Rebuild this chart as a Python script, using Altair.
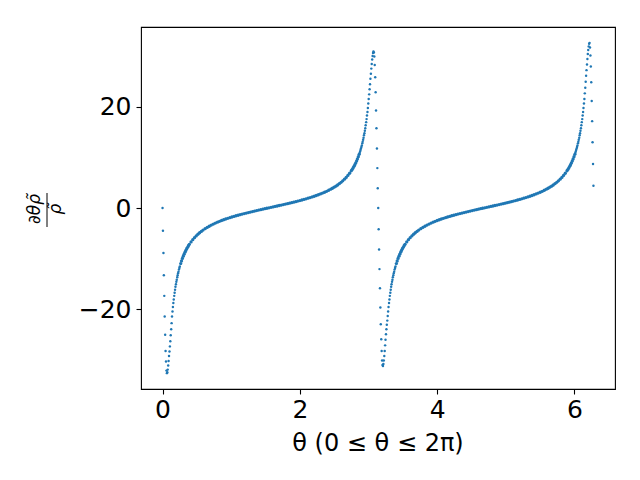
import altair as alt
import pandas as pd

# ---- values ----
# steep samples just after theta = 0
theta_a = [0.000, 0.006, 0.013, 0.019, 0.025, 0.031, 0.038, 0.044, 0.050, 0.057,
           0.063, 0.069, 0.075, 0.082, 0.088, 0.094, 0.101, 0.107, 0.113, 0.119,
           0.126, 0.132, 0.138, 0.145, 0.151, 0.157, 0.163, 0.170, 0.176, 0.182,
           0.188, 0.195, 0.201, 0.207, 0.214, 0.220, 0.226, 0.232, 0.239, 0.245,
           0.251]
rho_a = [0.0, -4.5, -8.9, -13.3, -17.4, -21.5, -25.1, -28.3, -30.4, -32.2,
         -32.7, -32.5, -32.0, -31.2, -30.3, -29.3, -28.4, -27.4, -26.4, -25.2,
         -24.0, -22.8, -21.5, -20.5, -19.6, -18.8, -18.1, -17.4, -16.8, -16.2,
         -15.6, -15.1, -14.6, -14.2, -13.7, -13.3, -12.9, -12.6, -12.2, -11.9,
         -11.6]

# smooth branch, first period
theta_b = [0.264, 0.276, 0.289, 0.302, 0.314, 0.327, 0.339, 0.352, 0.364, 0.377, 0.390,
           0.415, 0.440, 0.465, 0.490, 0.515, 0.540, 0.565, 0.590,
           0.620, 0.650, 0.680, 0.710, 0.740, 0.770, 0.800, 0.830, 0.860, 0.890, 0.920,
           0.950, 0.980, 1.010, 1.040, 1.070, 1.100, 1.130, 1.160, 1.190, 1.220, 1.250,
           1.280, 1.310, 1.340, 1.370, 1.400, 1.430, 1.460, 1.490, 1.520, 1.550, 1.580,
           1.610, 1.640, 1.670, 1.700, 1.730, 1.760, 1.790, 1.820, 1.850, 1.880, 1.910,
           1.940, 1.970, 2.000, 2.030, 2.060, 2.090, 2.120, 2.150, 2.180, 2.210, 2.240,
           2.270, 2.300, 2.330, 2.360, 2.390, 2.420, 2.450,
           2.475, 2.500, 2.525, 2.550, 2.575, 2.600, 2.625, 2.650, 2.675, 2.700, 2.725, 2.750,
           2.763, 2.776, 2.789, 2.801, 2.814, 2.827, 2.839, 2.852, 2.864]
rho_b = [-11.0, -10.49, -9.99, -9.53, -9.14, -8.75, -8.41, -8.07, -7.78, -7.48, -7.2,
         -6.71, -6.28, -5.88, -5.52, -5.2, -4.9, -4.63, -4.38,
         -4.10, -3.85, -3.61, -3.39, -3.19, -2.99, -2.81, -2.64, -2.48, -2.33, -2.18,
         -2.05, -1.91, -1.78, -1.66, -1.54, -1.43, -1.32, -1.21, -1.10, -1.00, -0.90,
         -0.80, -0.70, -0.61, -0.51, -0.42, -0.33, -0.23, -0.14, -0.05, 0.04, 0.13,
         0.22, 0.31, 0.40, 0.49, 0.58, 0.67, 0.77, 0.86, 0.96, 1.06, 1.16,
         1.26, 1.37, 1.47, 1.59, 1.70, 1.82, 1.94, 2.07, 2.20, 2.33, 2.47,
         2.62, 2.78, 2.95, 3.12, 3.31, 3.51, 3.72,
         3.91, 4.12, 4.33, 4.56, 4.82, 5.09, 5.38, 5.70, 6.06, 6.45, 6.88, 7.37,
         7.64, 7.94, 8.25, 8.56, 8.93, 9.32, 9.71, 10.17, 10.63]

# steep samples around theta = pi
theta_c = [2.871, 2.878, 2.884, 2.890, 2.897, 2.903, 2.909, 2.915, 2.922, 2.928,
           2.934, 2.941, 2.947, 2.953, 2.959, 2.966, 2.972, 2.978, 2.985, 2.991,
           2.997, 3.003, 3.010, 3.016, 3.022, 3.028, 3.035, 3.041, 3.047, 3.054,
           3.060, 3.066, 3.072, 3.079, 3.085, 3.091, 3.098, 3.104, 3.110, 3.116,
           3.123, 3.129, 3.135, 3.142, 3.148, 3.154, 3.160, 3.167, 3.173, 3.179,
           3.186, 3.192, 3.198, 3.204, 3.211, 3.217, 3.223, 3.230, 3.236, 3.242,
           3.248, 3.255, 3.261, 3.267, 3.274, 3.280, 3.286, 3.292, 3.299, 3.305,
           3.311, 3.318, 3.324, 3.330, 3.336, 3.343, 3.349, 3.355, 3.362, 3.368,
           3.374, 3.380, 3.387, 3.393]
rho_c = [10.9, 11.2, 11.5, 11.8, 12.1, 12.4, 12.8, 13.1, 13.5, 13.9,
         14.4, 14.8, 15.3, 15.8, 16.4, 17.0, 17.6, 18.3, 19.0, 19.8,
         20.7, 21.6, 22.5, 23.5, 24.5, 25.6, 26.6, 27.6, 28.5, 29.4,
         30.1, 30.7, 31.0, 30.8, 30.0, 28.3, 25.9, 22.9, 19.3, 15.8,
         11.8, 7.9, 3.9, 0.0, -4.2, -8.2, -12.1, -15.9, -19.7, -23.0,
         -26.0, -28.3, -30.2, -31.1, -31.3, -30.9, -30.2, -29.3, -28.3, -27.2,
         -26.1, -25.0, -24.0, -23.1, -22.3, -21.4, -20.5, -19.6, -18.8, -18.1,
         -17.4, -16.8, -16.2, -15.6, -15.1, -14.6, -14.2, -13.7, -13.3, -12.9,
         -12.6, -12.2, -11.9, -11.6]

# smooth branch, second period
theta_d = [3.406, 3.418, 3.431, 3.444, 3.456, 3.469, 3.481, 3.494, 3.506, 3.519, 3.532,
           3.557, 3.582, 3.607, 3.632, 3.657, 3.682, 3.707, 3.732,
           3.762, 3.792, 3.822, 3.852, 3.882, 3.912, 3.942, 3.972, 4.002, 4.032, 4.062,
           4.092, 4.122, 4.152, 4.182, 4.212, 4.242, 4.272, 4.302, 4.332, 4.362, 4.392,
           4.422, 4.452, 4.482, 4.512, 4.542, 4.572, 4.602, 4.632, 4.662, 4.692, 4.722,
           4.752, 4.782, 4.812, 4.842, 4.872, 4.902, 4.932, 4.962, 4.992, 5.022, 5.052,
           5.082, 5.112, 5.142, 5.172, 5.202, 5.232, 5.262, 5.292, 5.322, 5.352, 5.382,
           5.412, 5.442, 5.472, 5.502, 5.532, 5.562, 5.592,
           5.617, 5.642, 5.667, 5.692, 5.717, 5.742, 5.767, 5.792, 5.817, 5.842, 5.867, 5.892,
           5.905, 5.918, 5.931, 5.943, 5.956, 5.969, 5.981, 5.994, 6.006]
rho_d = [-11.0, -10.49, -9.99, -9.53, -9.14, -8.75, -8.41, -8.07, -7.78, -7.48, -7.2,
         -6.71, -6.28, -5.88, -5.52, -5.2, -4.9, -4.63, -4.38,
         -4.10, -3.85, -3.61, -3.39, -3.19, -2.99, -2.81, -2.64, -2.48, -2.33, -2.18,
         -2.05, -1.91, -1.78, -1.66, -1.54, -1.43, -1.32, -1.21, -1.10, -1.00, -0.90,
         -0.80, -0.70, -0.61, -0.51, -0.42, -0.33, -0.23, -0.14, -0.05, 0.04, 0.13,
         0.22, 0.31, 0.40, 0.49, 0.58, 0.67, 0.77, 0.86, 0.96, 1.06, 1.16,
         1.26, 1.37, 1.47, 1.59, 1.70, 1.82, 1.94, 2.07, 2.20, 2.33, 2.47,
         2.62, 2.78, 2.95, 3.12, 3.31, 3.51, 3.72,
         3.91, 4.12, 4.33, 4.56, 4.82, 5.09, 5.38, 5.70, 6.06, 6.45, 6.88, 7.37,
         7.64, 7.94, 8.25, 8.56, 8.93, 9.32, 9.71, 10.17, 10.63]

# steep samples just before theta = 2*pi
theta_e = [6.013, 6.019, 6.025, 6.032, 6.038, 6.044, 6.051, 6.057, 6.063, 6.070,
           6.076, 6.082, 6.088, 6.095, 6.101, 6.107, 6.114, 6.120, 6.126, 6.132,
           6.139, 6.145, 6.151, 6.158, 6.164, 6.170, 6.176, 6.183, 6.189, 6.195,
           6.201, 6.208, 6.214, 6.220, 6.227, 6.233, 6.239, 6.245, 6.252, 6.258,
           6.264, 6.271, 6.277]
rho_e = [10.9, 11.2, 11.5, 11.8, 12.1, 12.4, 12.8, 13.1, 13.5, 13.9,
         14.4, 14.8, 15.3, 15.8, 16.4, 17.0, 17.6, 18.3, 19.0, 19.8,
         20.7, 21.6, 22.7, 23.8, 25.0, 26.2, 27.3, 28.4, 29.5, 30.5,
         31.3, 32.0, 32.5, 32.7, 31.8, 30.2, 28.0, 24.9, 21.2, 17.2,
         13.0, 8.7, 4.4]

x_ticks = [0, 2, 4, 6]
y_ticks = [-20, 0, 20]
x_title = "θ (0 ≤ θ ≤ 2π)"
y_num = "∂θρ̃"
y_den = "ρ̃"


def frame(th, rh):
    n = min(len(th), len(rh))
    return pd.DataFrame({"theta": th[:n], "rho": rh[:n]})


steep = pd.concat([frame(theta_a, rho_a), frame(theta_c, rho_c), frame(theta_e, rho_e)],
                  ignore_index=True)
smooth = pd.concat([frame(theta_b, rho_b), frame(theta_d, rho_d)], ignore_index=True)

W, H = 474, 362
FONT = "DejaVu Sans"
BLUE = "#1f77b4"

xs = alt.Scale(domain=[-0.314, 6.591], nice=False, zero=False)
ys = alt.Scale(domain=[-35.84, 35.84], nice=False, zero=False)

x_axis = alt.Axis(values=x_ticks, format="d", title=None, grid=False, domain=False,
                  tickSize=5, tickWidth=1.1, tickColor="black",
                  labelFontSize=25, labelFont=FONT, labelColor="black", labelPadding=3)
y_axis = alt.Axis(values=y_ticks, format="d", title=None, grid=False, domain=False,
                  tickSize=5, tickWidth=1.1, tickColor="black",
                  labelFontSize=25, labelFont=FONT, labelColor="black", labelPadding=5)

smooth_layer = alt.Chart(smooth).mark_circle(size=11, color=BLUE, opacity=1).encode(
    x=alt.X("theta:Q", scale=xs, axis=x_axis),
    y=alt.Y("rho:Q", scale=ys, axis=y_axis),
)
steep_layer = alt.Chart(steep).mark_circle(size=6, color=BLUE, opacity=1).encode(
    x=alt.X("theta:Q", scale=xs),
    y=alt.Y("rho:Q", scale=ys),
)

one = pd.DataFrame({"a": [0]})
num = alt.Chart(one).mark_text(text=y_num, angle=270, font=FONT, fontSize=17,
                               fontStyle="italic", align="center", baseline="middle",
                               color="black").encode(x=alt.value(-106), y=alt.value(182))
den = alt.Chart(one).mark_text(text=y_den, angle=270, font=FONT, fontSize=17,
                               fontStyle="italic", align="center", baseline="middle",
                               color="black").encode(x=alt.value(-85), y=alt.value(182))
bar = alt.Chart(one).mark_rule(color="black", strokeWidth=1).encode(
    x=alt.value(-94), y=alt.value(166), y2=alt.value(200))
xt = alt.Chart(one).mark_text(text=x_title, font=FONT, fontSize=24, align="center",
                              baseline="alphabetic", color="black").encode(
    x=alt.value(W / 2), y=alt.value(424))

chart = alt.layer(smooth_layer, steep_layer, num, den, bar, xt).properties(
    width=W, height=H,
    background="white",
    padding={"left": 133, "top": 19, "right": 17, "bottom": 83},
    autosize=alt.AutoSizeParams(type="none"),
).configure_view(stroke="black", strokeWidth=1.1)

chart.save("out.html", embed_options={"renderer": "svg", "actions": False})
